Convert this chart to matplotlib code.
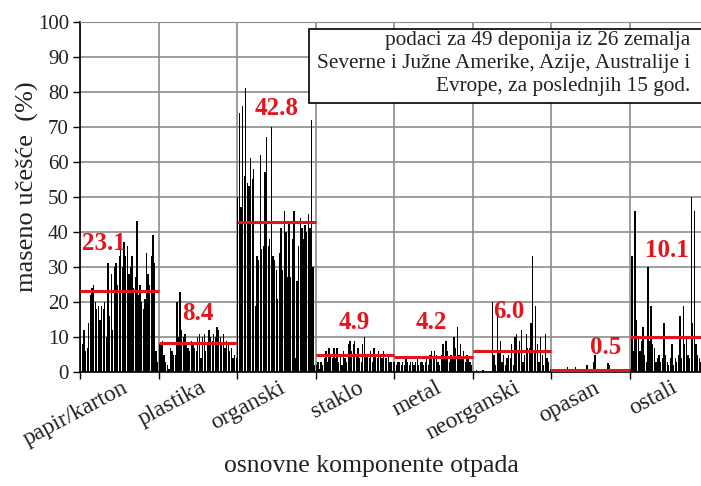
import numpy as np
import matplotlib
matplotlib.use("Agg")
import matplotlib.pyplot as plt
from matplotlib.patches import Rectangle
from matplotlib.transforms import blended_transform_factory

SERIF = ["Liberation Serif", "DejaVu Serif"]
plt.rcParams["font.family"] = SERIF

# ── data: 49 landfills per waste component (mass share, %) ──────────
CATEGORIES = ["papir/karton", "plastika", "organski", "staklo",
              "metal", "neorganski", "opasan", "ostali"]
MEANS = [23.1, 8.4, 42.8, 4.9, 4.2, 6.0, 0.5, 10.1]

PAPIR = [9, 8, 12, 6, 7, 14, 22, 24, 25, 20, 18, 19, 15, 19, 18, 20, 10,
         31, 16, 28, 12, 30, 31, 25, 33, 35, 30, 37, 33, 36, 28, 30, 33,
         24, 27, 43, 22, 25, 20, 18, 21, 34, 28, 25, 33, 39, 31, 6, 3]
PLASTIKA = [8, 8, 9, 5, 3, 2, 1, 7, 6, 5, 5, 20, 10, 23, 12, 10, 11, 8,
            7, 6, 9, 8, 7, 6, 10, 11, 4, 10, 11, 6, 8, 12, 10, 9, 11, 10,
            13, 12, 10, 8, 11, 7, 9, 8, 6, 7, 4, 5, 4]
ORGANSKI = [50, 74, 47, 76, 56, 81, 54, 53, 61, 55, 58, 19, 33, 32, 62,
            35, 36, 57, 67, 36, 38, 70, 33, 32, 29, 21, 34, 41, 29, 46,
            40, 27, 43, 27, 38, 46, 4, 26, 36, 44, 41, 38, 42, 40, 45,
            41, 72, 30, 2]
STAKLO = [2, 3, 1, 3, 2, 4, 6, 3, 7, 5, 4, 7, 4, 7, 3, 5, 2, 6, 4, 3, 8,
          9, 6, 8, 9, 5, 7, 4, 3, 8, 10, 5, 5, 4, 6, 3, 7, 5, 4, 6, 5, 4,
          6, 4, 4, 5, 3, 3, 3]
METAL = [3, 2, 3, 3, 2, 3, 2, 4, 3, 2, 3, 3, 2, 3, 4, 2, 3, 3, 2, 3, 4,
         2, 5, 6, 4, 6, 5, 3, 2, 5, 8, 4, 9, 6, 3, 5, 4, 10, 7, 13, 5, 8,
         4, 6, 3, 5, 4, 3, 2]
NEORGANSKI = [0, 0, 0.5, 0, 0, 0, 0.5, 0, 0, 0, 0, 0, 20, 5, 2, 18, 6, 9,
              3, 5, 2, 4, 5, 4, 8, 2, 10, 11, 6, 9, 12, 3, 5, 11, 7, 7,
              14, 33, 6, 19, 8, 3, 10, 5, 2, 11, 4, 3, 1]
OPASAN = [0, 0, 0, 0, 0, 1, 0, 0, 0, 0, 1.5, 0, 0, 0, 0, 1.5, 0, 0, 0, 0,
          0.5, 0, 2, 0, 0, 0, 3, 5, 0, 0, 0, 0, 1, 0, 0, 2.5, 2, 0, 1, 0,
          1, 0, 0.5, 0, 0.5, 0, 0.5, 1, 0]
OSTALI = [1, 33, 6, 46, 15, 10, 6, 9, 13, 5, 3, 30, 9, 19, 8, 7, 3, 4, 5,
          3, 4, 14, 5, 3, 2, 4, 8, 2, 4, 3, 5, 16, 4, 19, 8, 10, 5, 4, 50,
          14, 46, 8, 5, 4, 3, 3, 2, 3, 2]

SERIES = [PAPIR, PLASTIKA, ORGANSKI, STAKLO, METAL, NEORGANSKI, OPASAN, OSTALI]

NOTE_LINES = ["podaci za 49 deponija iz 26 zemalja",
              "Severne i Južne Amerike, Azije, Australije i",
              "Evrope, za poslednjih 15 god."]

# positions of the red mean labels (group units, %)
LABEL_POS = [(0.31, 36.6), (1.50, 16.8), (2.51, 75.4), (3.49, 14.2),
             (4.48, 14.2), (5.46, 17.3), (6.70, 7.1), (7.48, 34.6)]

RED = "#e3151c"
GRID = "#8c8c8c"
W, H = 701, 486

fig = plt.figure(figsize=(W / 100, H / 100), dpi=100)
# axes runs a bit past the right edge, as in the original crop
ax = fig.add_axes([80 / W, 114 / H, 628 / W, 350 / H])

for i, vals in enumerate(SERIES):
    n = len(vals)
    x = i + (np.arange(n) + 0.5) / n
    ax.bar(x, vals, width=0.8 / n, color="black", linewidth=0, zorder=2)
    ax.hlines(MEANS[i], i, i + 1, color=RED, linewidth=2.2, zorder=3)
    lx, ly = LABEL_POS[i]
    ax.text(lx, ly, f"{MEANS[i]:.1f}", color=RED, fontsize=18,
            fontweight="bold", ha="center", va="center", zorder=4)

ax.set_xlim(0, len(SERIES))
ax.set_ylim(0, 100)
ax.set_yticks(range(0, 101, 10))
ax.set_xticks(range(0, len(SERIES) + 1))
ax.set_xticklabels([])
ax.grid(color=GRID, linewidth=1.2)
ax.set_axisbelow(True)
ax.tick_params(direction="out", length=5, width=1, labelsize=15, pad=3,
               labelcolor="#222222", labelfontfamily="Liberation Serif")
ax.spines["top"].set_color(GRID)
ax.spines["right"].set_visible(False)
for s in ("left", "bottom"):
    ax.spines[s].set_linewidth(1.2)

trans = blended_transform_factory(ax.transData, ax.transAxes)
for i, name in enumerate(CATEGORIES):
    ax.text(i + 0.53, -0.015, name, transform=trans, rotation=28,
            rotation_mode="anchor", ha="right", va="top", fontsize=17,
            color="#222222")

fig.text(27 / W, 1 - 187 / H, "maseno učešće  (%)", rotation=90,
         ha="center", va="center", fontsize=19, color="#222222")
fig.text(371 / W, 1 - 466 / H, "osnovne komponente otpada",
         ha="center", va="center", fontsize=18.5, color="#222222")

# note box
box = Rectangle((309 / W, 1 - 103 / H), 420 / W, 74 / H,
                transform=fig.transFigure, facecolor="white",
                edgecolor="black", linewidth=1.2, zorder=5)
fig.add_artist(box)
for k, line in enumerate(NOTE_LINES):
    fig.text(690 / W, 1 - (40 + 23.5 * k) / H, line, ha="right",
             va="center", fontsize=15.3, zorder=6, color="#222222")

fig.savefig("out.png", dpi=100, facecolor="white")
